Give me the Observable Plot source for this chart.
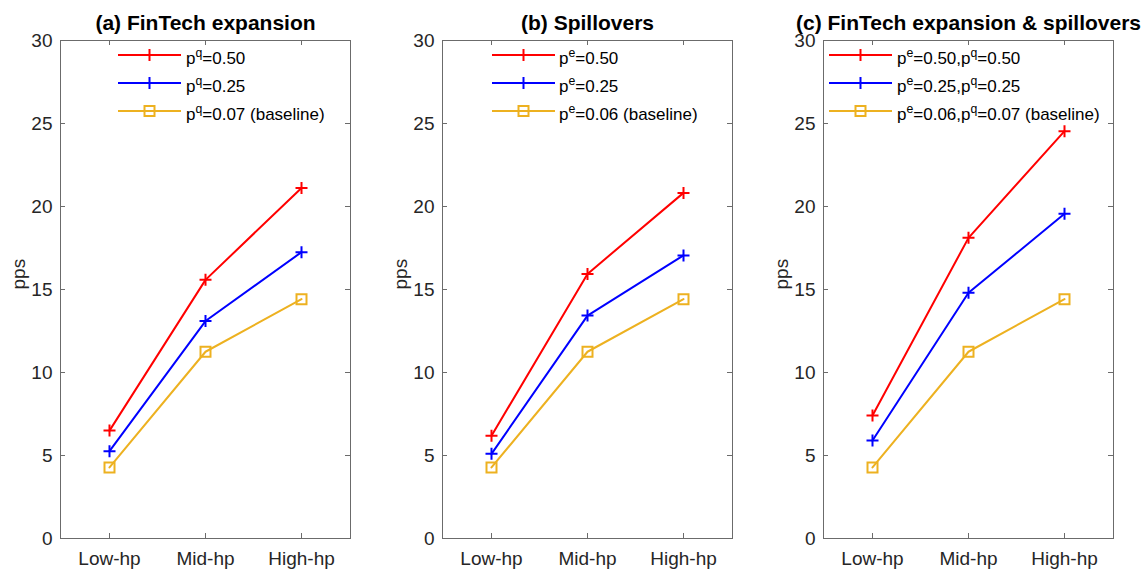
<!DOCTYPE html>
<html>
<head>
<meta charset="utf-8">
<script src="https://cdn.jsdelivr.net/npm/d3@7"></script>
<script src="https://cdn.jsdelivr.net/npm/@observablehq/plot@0.6"></script>
<style>
  body { margin: 0; background: #fff; font-family: "Liberation Sans", Arial, Helvetica, sans-serif; }
  #wrap { position: relative; width: 1145px; height: 569px; overflow: hidden; background: #fff; }
  .panel { position: absolute; top: 0; }
  .legend { position: absolute; font-size: 17px; color: #000; }
  .row { position: absolute; left: 0; height: 28px; white-space: nowrap; }
  .row svg { position: absolute; left: 0; top: 0; }
  .row span { position: absolute; top: 4px; line-height: 28px; }
  sup { font-size: 0.72em; vertical-align: 0.55em; line-height: 0; }
</style>
</head>
<body>
<div id="wrap"></div>
<script>
// ---- data ----
const categories = ["Low-hp", "Mid-hp", "High-hp"];
const yTicks = [0, 5, 10, 15, 20, 25, 30];
const titles = ["(a) FinTech expansion", "(b) Spillovers", "(c) FinTech expansion & spillovers"];
const yLabel = "pps";

// panel (a) FinTech expansion
const fintechHigh = [6.50, 15.58, 21.12];   // p^q = 0.50
const fintechMid  = [5.26, 13.10, 17.25];   // p^q = 0.25
// baseline (same in all panels)
const baseline    = [4.28, 11.25, 14.42];
// panel (b) Spillovers
const spillHigh   = [6.19, 15.94, 20.82];   // p^e = 0.50
const spillMid    = [5.10, 13.43, 17.05];   // p^e = 0.25
// panel (c) FinTech expansion & spillovers
const bothHigh    = [7.41, 18.11, 24.54];
const bothMid     = [5.90, 14.80, 19.56];

// legend labels (HTML with superscripts)
const legendA = ["p<sup>q</sup>=0.50", "p<sup>q</sup>=0.25", "p<sup>q</sup>=0.07 (baseline)"];
const legendB = ["p<sup>e</sup>=0.50", "p<sup>e</sup>=0.25", "p<sup>e</sup>=0.06 (baseline)"];
const legendC = ["p<sup>e</sup>=0.50,p<sup>q</sup>=0.50", "p<sup>e</sup>=0.25,p<sup>q</sup>=0.25", "p<sup>e</sup>=0.06,p<sup>q</sup>=0.07 (baseline)"];

const seriesColors = ["#FF0000", "#0000FF", "#EDB120"];

// ---- custom marker symbols ----
const plusSymbol = {
  draw(ctx, size) {
    const r = Math.sqrt(size / Math.PI);
    ctx.moveTo(-r, 0); ctx.lineTo(r, 0);
    ctx.moveTo(0, -r); ctx.lineTo(0, r);
  }
};
const squareSymbol = {
  draw(ctx, size) {
    const r = Math.sqrt(size / Math.PI);
    ctx.moveTo(-r, -r); ctx.lineTo(r, -r); ctx.lineTo(r, r); ctx.lineTo(-r, r); ctx.closePath();
  }
};
const symbols = [plusSymbol, plusSymbol, squareSymbol];
const symbolR = [6, 6, 5];

const W = 382, H = 569;
const mL = 60, mT = 40, mB = 31, boxW = 290;
const mR = W - mL - boxW;
const boxH = H - mT - mB;
const boxColor = "#6b6b6b";
const textColor = "#262626";
const fontFamily = '"Liberation Sans", Arial, Helvetica, sans-serif';

function makePanel(title, seriesList, legendLabels, svgLeft, legendLineX, legendTextX) {
  const marks = [
    Plot.frame({stroke: boxColor, strokeWidth: 1}),
    Plot.ruleY(yTicks, {insetRight: boxW - 5, stroke: boxColor}),
    Plot.ruleY(yTicks, {insetLeft: boxW - 5, stroke: boxColor}),
    Plot.ruleX(categories, {insetTop: boxH - 5, stroke: boxColor}),
    Plot.ruleX(categories, {insetBottom: boxH - 5, stroke: boxColor}),
    Plot.axisY({ticks: yTicks, tickSize: 0, tickPadding: 8, fontSize: 19, label: null, fill: textColor}),
    Plot.axisX({tickSize: 0, tickPadding: 13, fontSize: 19, label: null, fill: textColor})
  ];
  seriesList.forEach((vals, k) => {
    marks.push(Plot.line(vals, {x: (d, i) => categories[i], y: d => d, stroke: seriesColors[k], strokeWidth: 2}));
    marks.push(Plot.dot(vals, {x: (d, i) => categories[i], y: d => d, symbol: symbols[k], r: symbolR[k], stroke: seriesColors[k], strokeWidth: 2, fill: "none"}));
  });
  marks.push(Plot.text([title], {text: d => d, frameAnchor: "top", lineAnchor: "middle", dy: -17, fontWeight: "bold", fontSize: 21, fill: "#000"}));
  marks.push(Plot.text([yLabel], {text: d => d, frameAnchor: "left", lineAnchor: "middle", rotate: -90, dx: -42, fontSize: 19, fill: textColor}));

  const chart = Plot.plot({
    width: W, height: H,
    marginLeft: mL, marginRight: mR, marginTop: mT, marginBottom: mB,
    style: {fontFamily, fontSize: "19px", background: "transparent", overflow: "visible", color: textColor},
    x: {type: "point", domain: categories, padding: 0.5},
    y: {domain: [0, 30]},
    marks
  });
  const div = document.createElement("div");
  div.className = "panel";
  div.style.left = svgLeft + "px";
  div.appendChild(chart);
  document.getElementById("wrap").appendChild(div);

  // legend (inside the axes box)
  const rowY = [55, 83, 111];
  const leg = document.createElement("div");
  leg.className = "legend";
  leg.style.left = legendLineX + "px";
  leg.style.top = "0px";
  legendLabels.forEach((lab, k) => {
    const row = document.createElement("div");
    row.className = "row";
    row.style.top = (rowY[k] - 14) + "px";
    const c = seriesColors[k];
    const mk = k < 2
      ? `<path d="M25.5,14H37.5M31.5,8V20" stroke="${c}" stroke-width="2" fill="none"/>`
      : `<rect x="26.5" y="9" width="10" height="10" stroke="${c}" stroke-width="2" fill="none"/>`;
    row.innerHTML = `<svg width="63" height="28"><line x1="0" x2="63" y1="14" y2="14" stroke="${c}" stroke-width="2"/>${mk}</svg>` +
      `<span style="left:${legendTextX - legendLineX}px">${lab}</span>`;
    leg.appendChild(row);
  });
  document.getElementById("wrap").appendChild(leg);
}

makePanel(titles[0], [fintechHigh, fintechMid, baseline], legendA, 0, 118, 186);
makePanel(titles[1], [spillHigh, spillMid, baseline], legendB, 382, 492, 559);
makePanel(titles[2], [bothHigh, bothMid, baseline], legendC, 763, 829, 897);
</script>
</body>
</html>
